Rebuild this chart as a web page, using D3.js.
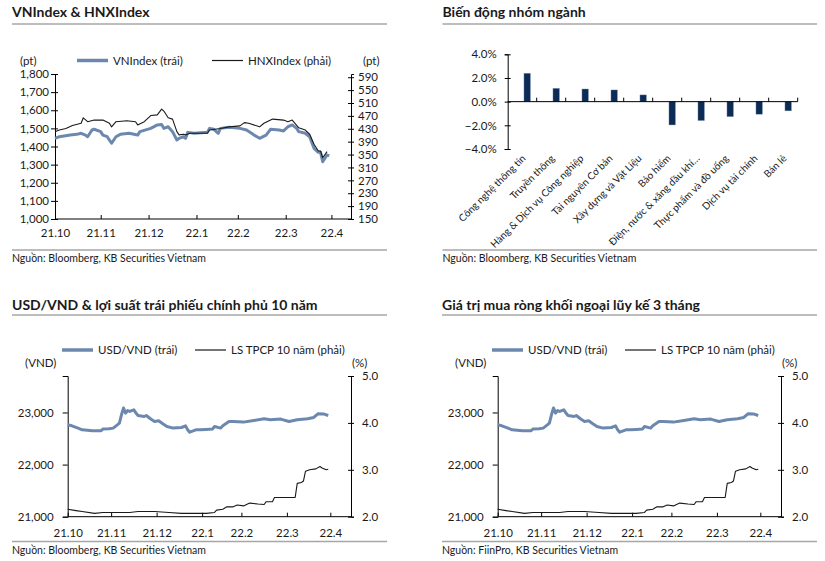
<!DOCTYPE html>
<html><head><meta charset="utf-8">
<script src="https://cdn.jsdelivr.net/npm/d3@7"></script>
<style>
body{margin:0;background:#fff}
svg{display:block}
text{font-family:Lato,"Open Sans",sans-serif;fill:#1a1a1a}
</style>
</head><body>
<svg id="c" width="825" height="561"></svg>
<script>
// ---------- DATA ----------
const monthLabels = ["21.10","21.11","21.12","22.1","22.2","22.3","22.4"];
const monthSessions = [0,21,43,65,84,106,127]; // trading-session index of each month start

// VNIndex (left axis, pt)
const vnSessions = [0,2,7,10,12,14,15,17,18,21,22,24,26,28,30,34,38,39,44,47,49,50,52,54,56,57,59,60,61,64,70,71,73,75,76,80,85,88,91,94,97,99,103,105,107,109,111,112,115,117,119,121,122,123,125,126];
const vnIndex = [1445,1454,1463,1467,1473,1463,1454,1491,1495,1482,1463,1454,1418,1454,1467,1473,1463,1482,1500,1519,1522,1500,1509,1482,1436,1445,1454,1445,1478,1473,1478,1500,1495,1473,1500,1506,1500,1491,1467,1445,1463,1495,1491,1486,1509,1519,1500,1482,1473,1454,1390,1368,1368,1316,1353,1348];

// HNXIndex (right axis, pt)
const hnxSessions = [0,2,5,8,12,13,15,18,22,25,26,28,33,37,38,41,44,47,49,50,52,54,56,57,59,60,62,70,71,76,80,85,87,89,94,96,100,105,107,109,112,115,117,119,121,122,123,125];
const hnxIndex = [421,426,431,440,447,464,452,457,457,447,436,452,455,452,442,452,471,473,491,485,464,460,421,411,413,411,416,416,426,431,436,439,449,447,436,447,460,457,452,457,433,426,413,382,361,361,340,359];

// USD/VND (left axis, VND)
const fxSessions = [0,2,5,7,12,16,17,20,22,24,25,26,27,28,29,30,32,33,34,37,38,40,42,44,46,48,51,55,57,58,59,62,64,67,70,71,74,75,78,80,85,90,95,98,103,107,111,116,119,121,124,126];
const usdVnd = [22763,22744,22700,22667,22648,22648,22681,22687,22700,22763,22796,22956,23085,22988,23038,23019,23052,22988,22942,22923,22942,22879,22827,22840,22783,22731,22700,22712,22744,22667,22623,22667,22667,22673,22681,22731,22700,22744,22827,22827,22815,22846,22879,22860,22873,22827,22860,22879,22904,22975,22969,22942];

// 10Y government bond yield (right axis, %)
const bondSessions = [0,4,7,13,17,22,30,34,42,49,55,62,67,71,72,75,77,80,82,85,88,92,95,96,99,100,103,106,110,111,113,114,115,117,120,122,123,125,126];
const bondYield = [2.16,2.13,2.11,2.07,2.09,2.09,2.09,2.11,2.11,2.09,2.07,2.07,2.07,2.09,2.14,2.16,2.21,2.21,2.25,2.23,2.29,2.27,2.26,2.32,2.32,2.41,2.41,2.41,2.41,2.71,2.73,2.76,2.97,3.00,3.02,3.07,3.04,3.00,3.01];

// Sector performance (%)
const sectors = ["Công nghệ thông tin","Truyền thông","Hàng & Dịch vụ Công nghiệp","Tài nguyên Cơ bản","Xây dựng và Vật Liệu","Bảo hiểm","Điện, nước & xăng dầu khí…","Thực phẩm và đồ uống","Dịch vụ tài chính","Bán lẻ"];
const sectorChange = [2.4,1.13,1.07,0.99,0.57,-1.97,-1.6,-1.27,-1.06,-0.78];
const sectorTicks = [-4,-2,0,2,4];

const vnTicks = [1000,1100,1200,1300,1400,1500,1600,1700,1800];
const hnxTicks = [150,190,230,270,310,350,390,430,470,510,550,590];
const fxTicks = [21000,22000,23000];
const bondTicks = [2.0,3.0,4.0,5.0];

// ---------- STYLE ----------
const BLUE = "#6d88ae", BLACK = "#1a1a1a", NAVY = "#0d2c55";
const svg = d3.select("#c");

function panelFrame(x0, x1, title, titleY, lineY, source, srcLineY, srcY) {
  svg.append("text").attr("x", x0).attr("y", titleY).attr("font-size", 14).attr("font-weight", 700).text(title);
  svg.append("line").attr("x1", x0).attr("x2", x1).attr("y1", lineY).attr("y2", lineY).attr("stroke", "#bdbdbd").attr("stroke-width", 2);
  svg.append("line").attr("x1", x0).attr("x2", x1).attr("y1", srcLineY).attr("y2", srcLineY).attr("stroke", "#a6a6a6").attr("stroke-width", 1.5);
  svg.append("text").attr("x", x0).attr("y", srcY).attr("font-size", 10.5).text(source);
}

function legend(items, y) {
  items.forEach(it => {
    svg.append("line").attr("x1", it.x).attr("x2", it.x + 31).attr("y1", y).attr("y2", y)
      .attr("stroke", it.color).attr("stroke-width", it.w);
    svg.append("text").attr("x", it.x + 36).attr("y", y + 4).attr("font-size", 11.5).text(it.label);
  });
}

function dualChart(c) {
  const x = d3.scaleLinear().domain(c.xDomain).range([c.left, c.right]);
  const yL = d3.scaleLinear().domain(c.lDomain).range([c.bottom, c.top]);
  const yR = d3.scaleLinear().domain(c.rDomain).range([c.bottom, c.top]);

  // left axis
  const gl = svg.append("g").attr("transform", `translate(${c.left},0)`)
    .call(d3.axisLeft(yL).tickValues(c.lTicks).tickFormat(c.lFmt).tickSize(c.lTickOut).tickPadding(c.lPad));
  gl.select(".domain").attr("stroke", "#000");
  gl.selectAll(".tick line").attr("x1", c.lTickIn).attr("stroke", "#000");
  gl.selectAll(".tick text").attr("font-size", 11.5).attr("font-family", "Lato").attr("fill", "#1a1a1a");

  // right axis
  const gr = svg.append("g").attr("transform", `translate(${c.right},0)`)
    .call(d3.axisRight(yR).tickValues(c.rTicks).tickFormat(c.rFmt).tickSize(3).tickPadding(c.rPad));
  gr.select(".domain").attr("stroke", "#000");
  gr.selectAll(".tick line").attr("x1", -3).attr("stroke", "#000");
  gr.selectAll(".tick text").attr("font-size", 11.5).attr("font-family", "Lato").attr("fill", "#1a1a1a");

  // bottom axis
  const gb = svg.append("g").attr("transform", `translate(0,${c.bottom})`)
    .call(d3.axisBottom(x).tickValues(monthSessions).tickFormat((d, i) => monthLabels[i]).tickSize(-4).tickPadding(c.xPad));
  gb.select(".domain").attr("stroke", "#000").attr("d", `M${c.left},0H${c.right}`);
  gb.selectAll(".tick line").attr("stroke", "#000");
  gb.selectAll(".tick text").attr("font-size", 11.5).attr("font-family", "Lato").attr("fill", "#1a1a1a");

  // lines
  const lineL = d3.line().x(d => x(d[0])).y(d => yL(d[1]));
  const lineR = d3.line().x(d => x(d[0])).y(d => yR(d[1]));
  svg.append("path").datum(d3.zip(c.lS, c.lV)).attr("d", lineL)
    .attr("fill", "none").attr("stroke", BLUE).attr("stroke-width", 3).attr("stroke-linejoin", "round");
  svg.append("path").datum(d3.zip(c.rS, c.rV)).attr("d", lineR)
    .attr("fill", "none").attr("stroke", BLACK).attr("stroke-width", 1.1).attr("stroke-linejoin", "round");

  // units
  svg.append("text").attr("x", c.lUnitX).attr("y", c.unitY).attr("font-size", 11.5).text(c.lUnit);
  svg.append("text").attr("x", c.rUnitX).attr("y", c.unitY).attr("font-size", 11.5).text(c.rUnit);
}

// ---------- PANEL 1: VNIndex & HNXIndex ----------
panelFrame(12, 387, "VNIndex & HNXIndex", 17, 24, "Nguồn: Bloomberg, KB Securities Vietnam", 250, 262);
legend([{x: 77, color: BLUE, w: 3.5, label: "VNIndex (trái)"}, {x: 212, color: BLACK, w: 1.2, label: "HNXIndex (phải)"}], 60.5);
dualChart({
  left: 55, right: 351, top: 74, bottom: 219, xDomain: [0, 136],
  lDomain: [1000, 1800], lTicks: vnTicks, lFmt: d3.format(","), lTickOut: 4, lTickIn: 3, lPad: 2,
  rDomain: [150, 600], rTicks: hnxTicks, rFmt: d3.format("d"), rPad: 4,
  xPad: 10,
  lS: vnSessions, lV: vnIndex, rS: hnxSessions, rV: hnxIndex,
  lUnit: "(pt)", rUnit: "(pt)", lUnitX: 20, rUnitX: 363, unitY: 65
});

// ---------- PANEL 3 & 4: USD/VND & bond yield ----------
function fxPanel(dx, title, source) {
  panelFrame(12 + dx, 387 + dx, title, 310, 315, source, 541.5, 554);
  legend([{x: 62 + dx, color: BLUE, w: 3.5, label: "USD/VND (trái)"}, {x: 195 + dx, color: BLACK, w: 1.2, label: "LS TPCP 10 năm (phải)"}], 350);
  dualChart({
    left: 67.7 + dx, right: 351 + dx, top: 376, bottom: 516.7, xDomain: [0, 137],
    lDomain: [21000, 23700], lTicks: fxTicks, lFmt: d3.format(","), lTickOut: 5, lTickIn: 0, lPad: 9,
    rDomain: [2, 5], rTicks: bondTicks, rFmt: d3.format(".1f"), rPad: 8,
    xPad: 12,
    lS: fxSessions, lV: usdVnd, rS: bondSessions, rV: bondYield,
    lUnit: "(VND)", rUnit: "(%)", lUnitX: 25 + dx, rUnitX: 352 + dx, unitY: 366.5
  });
}
fxPanel(0, "USD/VND & lợi suất trái phiếu chính phủ 10 năm", "Nguồn: Bloomberg, KB Securities Vietnam");
fxPanel(430, "Giá trị mua ròng khối ngoại lũy kế 3 tháng", "Nguồn: FiinPro, KB Securities Vietnam");

// ---------- PANEL 2: Sector bars ----------
panelFrame(442.5, 817, "Biến động nhóm ngành", 17, 24, "Nguồn: Bloomberg, KB Securities Vietnam", 250, 262);
(function () {
  const left = 507.7, right = 797.7, top = 54.3, bottom = 149;
  const x0 = d3.scaleBand().domain(sectors).range([left, right]).paddingInner(0).paddingOuter(0);
  const x1 = d3.scaleBand().domain(["_", "change"]).range([0, x0.bandwidth()]).paddingInner(0.35).paddingOuter(0.625);
  const y = d3.scaleLinear().domain([-4, 4]).range([bottom, top]);

  const gy = svg.append("g").attr("transform", `translate(${left},0)`)
    .call(d3.axisLeft(y).tickValues(sectorTicks).tickFormat(d => d3.format(".1f")(d) + "%").tickSize(3).tickPadding(8));
  gy.select(".domain").attr("stroke", "#000");
  gy.selectAll(".tick line").attr("x1", 3).attr("stroke", "#000");
  gy.selectAll(".tick text").attr("font-size", 11.5).attr("font-family", "Lato").attr("fill", "#1a1a1a");

  svg.append("g").selectAll("rect").data(sectors).join("rect")
    .attr("x", (d) => x0(d) + x1("change"))
    .attr("width", x1.bandwidth())
    .attr("y", (d, i) => y(Math.max(0, sectorChange[i])))
    .attr("height", (d, i) => Math.abs(y(sectorChange[i]) - y(0)))
    .attr("fill", NAVY).attr("stroke", "#8fa3bf").attr("stroke-width", 0.4);

  // zero axis
  svg.append("line").attr("x1", left).attr("x2", right).attr("y1", y(0)).attr("y2", y(0)).attr("stroke", "#000");
  svg.append("g").selectAll("line").data(sectors).join("line")
    .attr("x1", d => x0(d) + x0.bandwidth()).attr("x2", d => x0(d) + x0.bandwidth())
    .attr("y1", y(0)).attr("y2", y(0) - 4).attr("stroke", "#000");

  svg.append("g").selectAll("text").data(sectors).join("text")
    .attr("transform", d => `translate(${x0(d) + x0.bandwidth() / 2 + 4},159) rotate(-45)`)
    .attr("text-anchor", "end").attr("font-size", 10).text(d => d);
})();
</script>
</body></html>
